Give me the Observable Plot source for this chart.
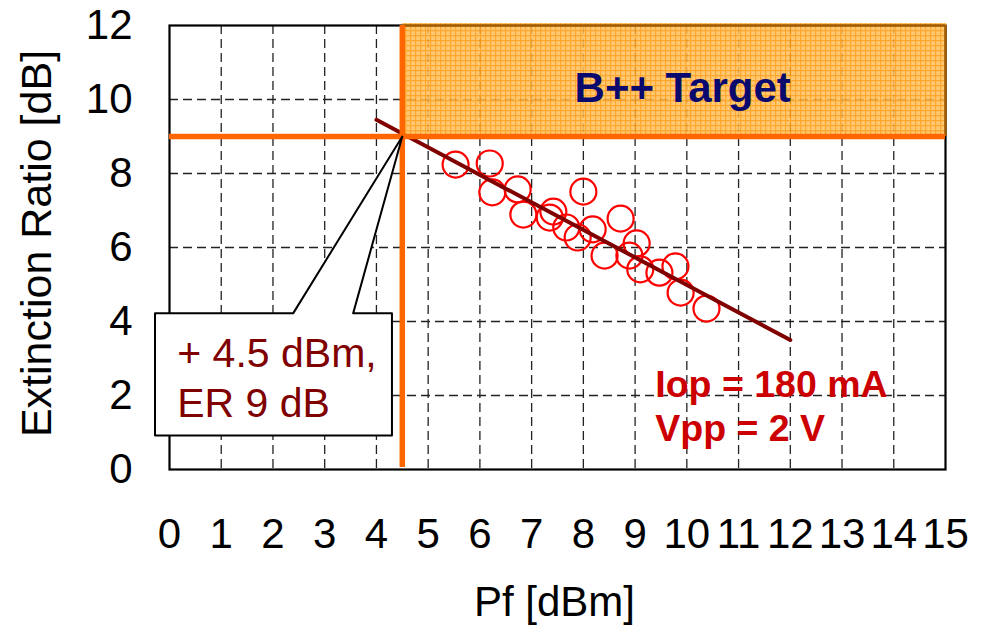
<!DOCTYPE html>
<html><head><meta charset="utf-8">
<script src="https://cdn.jsdelivr.net/npm/d3@7"></script>
<script src="https://cdn.jsdelivr.net/npm/@observablehq/plot@0.6"></script>
<style>body{margin:0;background:#fff} svg{display:block}</style>
</head><body><div id="chart"></div>
<script>
// Measured points: Pf [dBm] vs extinction ratio [dB]
const pfValues = [5.53, 6.19, 6.24, 6.73, 6.84, 7.42, 7.35, 7.67, 8.00, 8.18, 7.89, 8.72, 9.03, 8.41, 8.89, 9.10, 9.47, 9.78, 9.88, 10.38];
const erValues = [8.24, 8.27, 7.49, 7.57, 6.89, 6.97, 6.81, 6.54, 7.51, 6.49, 6.27, 6.78, 6.11, 5.78, 5.78, 5.41, 5.32, 5.49, 4.78, 4.35];
// Fitted trend line end points
const fitPf = [4.0, 12.0];
const fitEr = [9.45, 3.5];
// Axes
const xTicks = [0, 1, 2, 3, 4, 5, 6, 7, 8, 9, 10, 11, 12, 13, 14, 15];
const yTicks = [0, 2, 4, 6, 8, 10, 12];
const xGrid = [1, 2, 3, 4, 5, 6, 7, 8, 9, 10, 11, 12, 13, 14];
const yGrid = [2, 4, 6, 8, 10];
const xDomain = [0, 15];
const yDomain = [0, 12];
// Target
const targetPf = 4.5;
const targetEr = 9;
const targetLabel = "B++ Target";
// Callout outline (data coordinates)
const calloutPf = [-0.28, 2.39, 4.5, 3.55, 4.3, 4.3, -0.28, -0.28];
const calloutEr = [4.22, 4.22, 9, 4.22, 4.22, 0.92, 0.92, 4.22];
const calloutLines = ["+ 4.5 dBm,", "ER 9 dB"];
const calloutLineEr = [2.76, 1.41];
const calloutTextPf = 0.15;
const conditionLines = ["Iop = 180 mA", "Vpp = 2 V"];
const conditionLineEr = [1.97, 0.76];
const conditionPf = 9.39;
const targetLabelPos = {pf: 9.92, er: 9.92};

const FONT = "Liberation Sans, Arial, sans-serif";
const points = pfValues.map((pf, i) => ({pf, er: erValues[i]}));
const fit = fitPf.map((pf, i) => ({pf, er: fitEr[i]}));
const callout = calloutPf.map((pf, i) => ({pf, er: calloutEr[i]}));

const chart = Plot.plot({
  width: 988,
  height: 630,
  marginLeft: 169,
  marginRight: 43,
  marginTop: 25,
  marginBottom: 161,
  style: {fontFamily: FONT, background: "white"},
  x: {domain: xDomain},
  y: {domain: yDomain},
  marks: [
    Plot.gridX(xGrid, {stroke: "#222", strokeOpacity: 1, strokeWidth: 1.3, strokeDasharray: "9,5"}),
    Plot.gridY(yGrid, {stroke: "#222", strokeOpacity: 1, strokeWidth: 1.3, strokeDasharray: "9,5"}),
    Plot.frame({stroke: "black", strokeWidth: 2.2}),
    Plot.dot(points, {x: "pf", y: "er", r: 13, stroke: "#FF0000", strokeWidth: 2.2, fill: "none"}),
    Plot.line(fit, {x: "pf", y: "er", stroke: "#800000", strokeWidth: 4}),
    Plot.rect([{}], {x1: targetPf, x2: xDomain[1], y1: targetEr, y2: yDomain[1], fill: "url(#hatch)", fillOpacity: 0.88, insetTop: -2, insetRight: -1}),
    Plot.ruleY([yDomain[1]], {x1: targetPf, x2: xDomain[1], stroke: "#A05A00", strokeWidth: 2.5}),
    Plot.ruleX([xDomain[1]], {y1: targetEr, y2: yDomain[1], stroke: "#A05A00", strokeWidth: 2.5}),
    Plot.ruleY([targetEr], {x1: xDomain[0], x2: xDomain[1], stroke: "#FF6600", strokeWidth: 5.5}),
    Plot.ruleX([targetPf], {y1: yDomain[0], y2: yDomain[1], stroke: "#FF6600", strokeWidth: 5.5, insetTop: -2}),
    Plot.line(callout, {x: "pf", y: "er", stroke: "black", strokeWidth: 2, fill: "white", curve: "linear"}),
    Plot.text(calloutLines, {x: calloutTextPf, y: (d, i) => calloutLineEr[i], text: d => d, textAnchor: "start", lineAnchor: "bottom", fontSize: 41, fill: "#800000", fontFamily: FONT}),
    Plot.text(conditionLines, {x: conditionPf, y: (d, i) => conditionLineEr[i], text: d => d, textAnchor: "start", lineAnchor: "bottom", fontSize: 37.5, fontWeight: "bold", fill: "#CC0000", fontFamily: FONT}),
    Plot.text([targetLabel], {x: targetLabelPos.pf, y: targetLabelPos.er, text: d => d, textAnchor: "middle", lineAnchor: "bottom", fontSize: 42, fontWeight: "bold", fill: "#0A0A6E", fontFamily: FONT}),
    Plot.axisX(xTicks, {tickSize: 0, tickPadding: 49, fontSize: 42, fill: "black", fontFamily: FONT, label: null}),
    Plot.axisY(yTicks, {tickSize: 0, tickPadding: 37, fontSize: 42, fill: "black", fontFamily: FONT, label: null}),
    Plot.text(["Extinction Ratio [dB]"], {frameAnchor: "left", textAnchor: "middle", lineAnchor: "middle", rotate: -90, dx: -132, dy: -4, fontSize: 43, fill: "black", fontFamily: FONT}),
    Plot.text(["Pf [dBm]"], {frameAnchor: "bottom", textAnchor: "middle", dx: -3, dy: 146, lineAnchor: "bottom", fontSize: 42, fill: "black", fontFamily: FONT})
  ]
});

const svg = d3.select(chart);
const defs = svg.insert("defs", ":first-child");
const pat = defs.append("pattern").attr("id", "hatch").attr("patternUnits", "userSpaceOnUse").attr("width", 5).attr("height", 5);
pat.append("rect").attr("width", 5).attr("height", 5).attr("fill", "#FFC05E");
pat.append("path").attr("d", "M0,0.6H5M0.6,0V5").attr("stroke", "#FF9A10").attr("stroke-width", 1.2);

document.getElementById("chart").appendChild(chart);
</script>
</body></html>
